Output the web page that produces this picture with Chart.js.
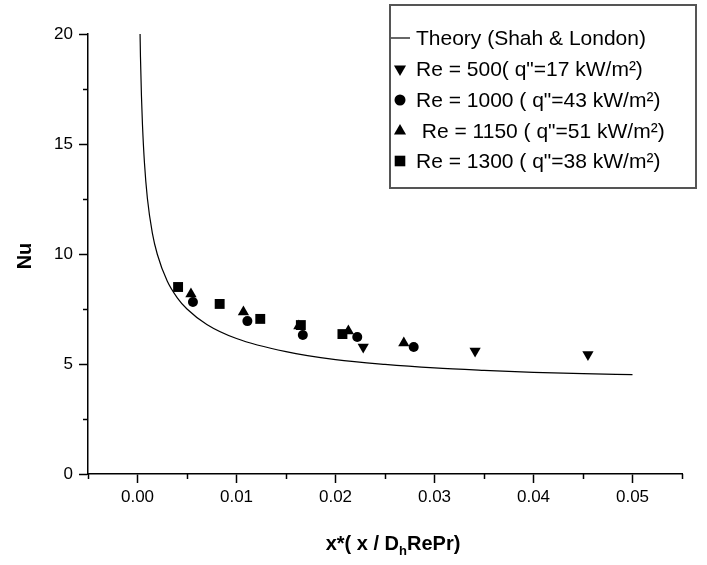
<!DOCTYPE html>
<html>
<head>
<meta charset="utf-8">
<script src="https://cdn.jsdelivr.net/npm/chart.js@4.4.1/dist/chart.umd.min.js"></script>
<style>
  body { margin: 0; background: #fff; }
  #wrap { width: 707px; height: 565px; }
</style>
</head>
<body>
<div id="wrap"><canvas id="nuChart"></canvas></div>
<script>
// theory curve (Shah & London)
var theoryX = [0.00026, 0.0003, 0.0004, 0.0005, 0.0007, 0.001, 0.0015, 0.002, 0.003, 0.004, 0.005, 0.007, 0.01, 0.015, 0.02, 0.025, 0.03, 0.035, 0.04, 0.045, 0.05];
var theoryNu = [20, 18.95, 17.17, 15.9, 14.16, 12.52, 10.95, 9.99, 8.77, 8.02, 7.5, 6.8, 6.16, 5.56, 5.2, 4.98, 4.82, 4.71, 4.62, 4.56, 4.52];

// measurements
var re500X = [0.0228, 0.0341, 0.0455];
var re500Nu = [5.77, 5.59, 5.43];
var re1000X = [0.0056, 0.0111, 0.0167, 0.0222, 0.0279];
var re1000Nu = [7.82, 6.95, 6.32, 6.23, 5.77];
var re1150X = [0.0054, 0.0107, 0.0163, 0.0213, 0.0269];
var re1150Nu = [8.18, 7.36, 6.73, 6.5, 5.95];
var re1300X = [0.0041, 0.0083, 0.0124, 0.0165, 0.0207];
var re1300Nu = [8.5, 7.73, 7.05, 6.77, 6.36];

var seriesLabels = [
  'Theory (Shah & London)',
  'Re = 500( q"=17 kW/m²)',
  'Re = 1000 ( q"=43 kW/m²)',
  ' Re = 1150 ( q"=51 kW/m²)',
  'Re = 1300 ( q"=38 kW/m²)'
];

function pts(xs, ys) {
  return xs.map(function (x, i) { return { x: x, y: ys[i] }; });
}

var FONT = '"Liberation Sans", Arial, sans-serif';

function isMajorX(v) { return Math.abs(Math.round(v * 1000)) % 10 === 0; }
function isMajorY(v) { return Math.abs(Math.round(v * 10)) % 50 === 0; }

// short minor ticks, the library draws the long major ones
var minorTicks = {
  id: 'minorTicks',
  afterDraw: function (chart) {
    var ctx = chart.ctx, xs = chart.scales.x, ys = chart.scales.y;
    ctx.save();
    ctx.strokeStyle = '#000';
    ctx.lineWidth = 1.5;
    xs.ticks.forEach(function (t) {
      if (isMajorX(t.value)) return;
      var px = Math.round(xs.getPixelForValue(t.value)) + 0.5;
      ctx.beginPath(); ctx.moveTo(px, xs.top); ctx.lineTo(px, xs.top + 5); ctx.stroke();
    });
    ys.ticks.forEach(function (t) {
      if (isMajorY(t.value)) return;
      var py = Math.round(ys.getPixelForValue(t.value)) + 0.5;
      ctx.beginPath(); ctx.moveTo(ys.right, py); ctx.lineTo(ys.right - 5, py); ctx.stroke();
    });
    ctx.restore();
  }
};

// axis titles (x title has a subscript)
var axisTitles = {
  id: 'axisTitles',
  afterDraw: function (chart) {
    var ctx = chart.ctx;
    ctx.save();
    ctx.fillStyle = '#000';
    ctx.textBaseline = 'alphabetic';
    var big = 'bold 20px ' + FONT, small = 'bold 13px ' + FONT;
    var a = 'x*( x / D', b = 'h', c = 'RePr)';
    ctx.font = big; var wa = ctx.measureText(a).width, wc = ctx.measureText(c).width;
    ctx.font = small; var wb = ctx.measureText(b).width;
    var x0 = 393 - (wa + wb + wc) / 2, base = 550;
    ctx.font = big; ctx.fillText(a, x0, base);
    ctx.font = small; ctx.fillText(b, x0 + wa, base + 5);
    ctx.font = big; ctx.fillText(c, x0 + wa + wb, base);

    ctx.translate(25, 256);
    ctx.rotate(-Math.PI / 2);
    ctx.textAlign = 'center';
    ctx.textBaseline = 'middle';
    ctx.font = big;
    ctx.fillText('Nu', 0, 0);
    ctx.restore();
  }
};

// boxed legend in the upper right
var boxLegend = {
  id: 'boxLegend',
  afterDraw: function (chart) {
    var ctx = chart.ctx;
    ctx.save();
    ctx.fillStyle = '#fff';
    ctx.fillRect(390, 5, 317, 183);
    ctx.strokeStyle = '#555';
    ctx.lineWidth = 2;
    ctx.strokeRect(390, 5, 306, 183);
    var rows = [38, 69, 100, 131, 161];
    ctx.font = '21px ' + FONT;
    ctx.textBaseline = 'middle';
    chart.data.datasets.forEach(function (ds, i) {
      var y = rows[i];
      ctx.fillStyle = '#000';
      if (i === 0) {
        ctx.strokeStyle = '#000';
        ctx.lineWidth = 1.2;
        ctx.beginPath(); ctx.moveTo(391, y); ctx.lineTo(410, y); ctx.stroke();
      } else {
        Chart.helpers.drawPoint(ctx, {
          pointStyle: ds.pointStyle, radius: ds.pointRadius + 0.5,
          rotation: ds.rotation || 0, borderWidth: 0
        }, 400, y);
      }
      ctx.fillStyle = '#000';
      ctx.fillText(ds.label, 416, y + 1);
    });
    ctx.restore();
  }
};

new Chart(document.getElementById('nuChart'), {
  type: 'scatter',
  data: {
    datasets: [
      {
        label: seriesLabels[0], data: pts(theoryX, theoryNu), showLine: true,
        borderColor: '#000', borderWidth: 1.2, pointRadius: 0,
        cubicInterpolationMode: 'monotone'
      },
      { label: seriesLabels[1], data: pts(re500X, re500Nu), pointStyle: 'triangle', rotation: 180,
        pointRadius: 6.5, backgroundColor: '#000', borderWidth: 0 },
      { label: seriesLabels[2], data: pts(re1000X, re1000Nu), pointStyle: 'circle',
        pointRadius: 5, backgroundColor: '#000', borderWidth: 0 },
      { label: seriesLabels[3], data: pts(re1150X, re1150Nu), pointStyle: 'triangle',
        pointRadius: 6.5, backgroundColor: '#000', borderWidth: 0 },
      { label: seriesLabels[4], data: pts(re1300X, re1300Nu), pointStyle: 'rect',
        pointRadius: 7, backgroundColor: '#000', borderWidth: 0 }
    ]
  },
  options: {
    responsive: true,
    maintainAspectRatio: false,
    animation: false,
    layout: { padding: { left: 0, right: 25, top: 34, bottom: 0 } },
    plugins: { legend: { display: false }, tooltip: { enabled: false } },
    scales: {
      x: {
        type: 'linear', min: -0.005, max: 0.055,
        afterFit: function (s) { s.height = 91; },
        ticks: {
          stepSize: 0.005, color: '#000', padding: 4,
          font: { family: FONT, size: 17 },
          callback: function (v) { return isMajorX(v) ? v.toFixed(2) : ''; }
        },
        grid: {
          drawOnChartArea: false, drawTicks: true, tickLength: 9, tickWidth: 1.5,
          tickColor: function (c) { return isMajorX(c.tick.value) ? '#000' : 'rgba(0,0,0,0)'; }
        },
        border: { color: '#000', width: 1.5 }
      },
      y: {
        type: 'linear', min: 0, max: 20,
        afterFit: function (s) { s.width = 88; },
        ticks: {
          stepSize: 2.5, color: '#000', padding: 6,
          font: { family: FONT, size: 17 },
          callback: function (v) { return isMajorY(v) ? String(v) : ''; }
        },
        grid: {
          drawOnChartArea: false, drawTicks: true, tickLength: 9, tickWidth: 1.5,
          tickColor: function (c) { return isMajorY(c.tick.value) ? '#000' : 'rgba(0,0,0,0)'; }
        },
        border: { color: '#000', width: 1.5 }
      }
    }
  },
  plugins: [minorTicks, axisTitles, boxLegend]
});
</script>
</body>
</html>
